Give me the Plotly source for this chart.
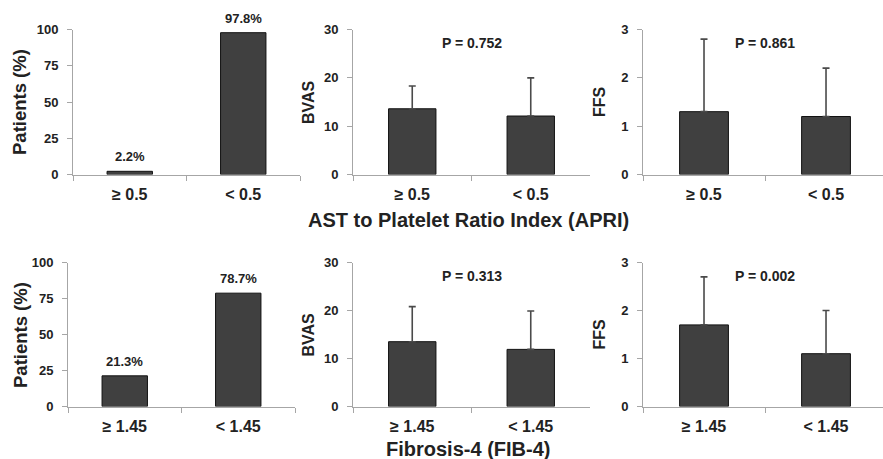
import plotly.graph_objects as go

# ---- data ----
apri_cats = ["≥ 0.5", "< 0.5"]
fib_cats = ["≥ 1.45", "< 1.45"]

apri_pct = [2.2, 97.8]
fib_pct = [21.3, 78.7]

apri_bvas = [13.6, 12.1]
apri_bvas_sd = [4.7, 7.9]
apri_ffs = [1.3, 1.2]
apri_ffs_sd = [1.5, 1.0]

fib_bvas = [13.5, 11.9]
fib_bvas_sd = [7.3, 8.0]
fib_ffs = [1.7, 1.1]
fib_ffs_sd = [1.0, 0.9]

p_values = ["P = 0.752", "P = 0.861", "P = 0.313", "P = 0.002"]

pct_ticks = [0, 25, 50, 75, 100]
bvas_ticks = [0, 10, 20, 30]
ffs_ticks = [0, 1, 2, 3]

group_titles = ["AST to Platelet Ratio Index (APRI)", "Fibrosis-4 (FIB-4)"]
ytitles = ["Patients (%)", "BVAS", "FFS"]

# ---- style ----
W, H = 883, 459
FONT = "Liberation Sans, Arial, sans-serif"
TXT = "#222222"
BAR = "#404040"
AXC = "#a6a6a6"

def px(x):
    return x / W

def py(y):
    return 1 - y / H

fig = go.Figure()

panels = [
    (apri_cats, apri_pct, None, (73, 300), (174.5, 29.5), [0, 100], pct_ticks, [-0.5, 1.5]),
    (apri_cats, apri_bvas, apri_bvas_sd, (353, 590), (174.5, 29.5), [0, 30], bvas_ticks, [-0.5, 1.5]),
    (apri_cats, apri_ffs, apri_ffs_sd, (643, 883), (174.5, 29.5), [0, 3], ffs_ticks, [-0.5, 1.467]),
    (fib_cats, fib_pct, None, (68, 295), (406.5, 262.5), [0, 100], pct_ticks, [-0.5, 1.5]),
    (fib_cats, fib_bvas, fib_bvas_sd, (353, 590), (406.5, 262.5), [0, 30], bvas_ticks, [-0.5, 1.5]),
    (fib_cats, fib_ffs, fib_ffs_sd, (643, 883), (406.5, 262.5), [0, 3], ffs_ticks, [-0.5, 1.467]),
]

annotations = []
layout_axes = {}
for i, (cats, vals, sd, xd, yd, yr, yt, xr) in enumerate(panels, start=1):
    xa = "x" if i == 1 else f"x{i}"
    ya = "y" if i == 1 else f"y{i}"
    err = None
    if sd is not None:
        err = dict(type="data", array=sd, arrayminus=[0] * len(sd), symmetric=False,
                   color="#4a4a4a", thickness=1.6, width=3.5)
    fig.add_trace(go.Bar(
        x=cats, y=vals, width=0.4, xaxis=xa, yaxis=ya,
        marker=dict(color=BAR, line=dict(color="#111111", width=1)),
        error_y=err, showlegend=False, hoverinfo="x+y",
    ))
    xkey = "xaxis" if i == 1 else f"xaxis{i}"
    ykey = "yaxis" if i == 1 else f"yaxis{i}"
    layout_axes[xkey] = dict(
        domain=[px(xd[0]), px(xd[1])], anchor=ya, type="category", range=xr,
        showline=True, linecolor=AXC, linewidth=1, showgrid=False, zeroline=False,
        ticks="outside", tickson="boundaries", ticklen=5, tickcolor=AXC,
        ticklabelstandoff=5, automargin=False,
        tickfont=dict(family=FONT, size=16, color=TXT, weight="bold"),
        fixedrange=True,
    )
    layout_axes[ykey] = dict(
        domain=[py(yd[0]), py(yd[1])], anchor=xa, range=yr, tickvals=yt,
        showline=True, linecolor=AXC, linewidth=1, showgrid=False, zeroline=False,
        ticks="outside", ticklen=5, tickcolor=AXC,
        ticklabelstandoff=6, automargin=False,
        tickfont=dict(family=FONT, size=13, color=TXT, weight="bold"),
        fixedrange=True,
    )
    if sd is None:
        for c, v in zip(cats, vals):
            annotations.append(dict(
                x=c, y=v, xref=xa, yref=ya, text=f"{v:.1f}%", showarrow=False,
                yanchor="bottom", yshift=5,
                font=dict(family=FONT, size=13, color=TXT, weight="bold"),
            ))

p_panels = [(2, 27.2), (3, 2.72), (5, 27.2), (6, 2.72)]
for (i, yv), ptxt in zip(p_panels, p_values):
    annotations.append(dict(
        x=0.5, y=yv, xref=f"x{i}", yref=f"y{i}", text=ptxt, showarrow=False,
        font=dict(family=FONT, size=14, color=TXT, weight="bold"),
    ))

ytitle_pos = [(19, 102, 0), (308, 102, 1), (599, 102, 2),
              (20, 335, 0), (308, 334.5, 1), (599, 334.5, 2)]
for xx, yy, k in ytitle_pos:
    annotations.append(dict(
        x=px(xx), y=py(yy), xref="paper", yref="paper", text=ytitles[k],
        textangle=-90, showarrow=False, xanchor="center", yanchor="middle",
        font=dict(family=FONT, size=18.5 if k == 0 else 16, color=TXT, weight="bold"),
    ))

for yy, t in zip([220, 449], group_titles):
    annotations.append(dict(
        x=px(468), y=py(yy), xref="paper", yref="paper", text=t, showarrow=False,
        xanchor="center", yanchor="middle",
        font=dict(family=FONT, size=20, color=TXT, weight="bold"),
    ))

fig.update_layout(
    width=W, height=H, margin=dict(l=0, r=0, t=0, b=0, pad=0, autoexpand=False),
    paper_bgcolor="white", plot_bgcolor="white",
    font=dict(family=FONT, color=TXT),
    annotations=annotations, **layout_axes,
)

fig.write_html(
    "out.html",
    config={"displayModeBar": False},
    post_script="document.documentElement.style.margin='0';document.body.style.margin='0';",
)
